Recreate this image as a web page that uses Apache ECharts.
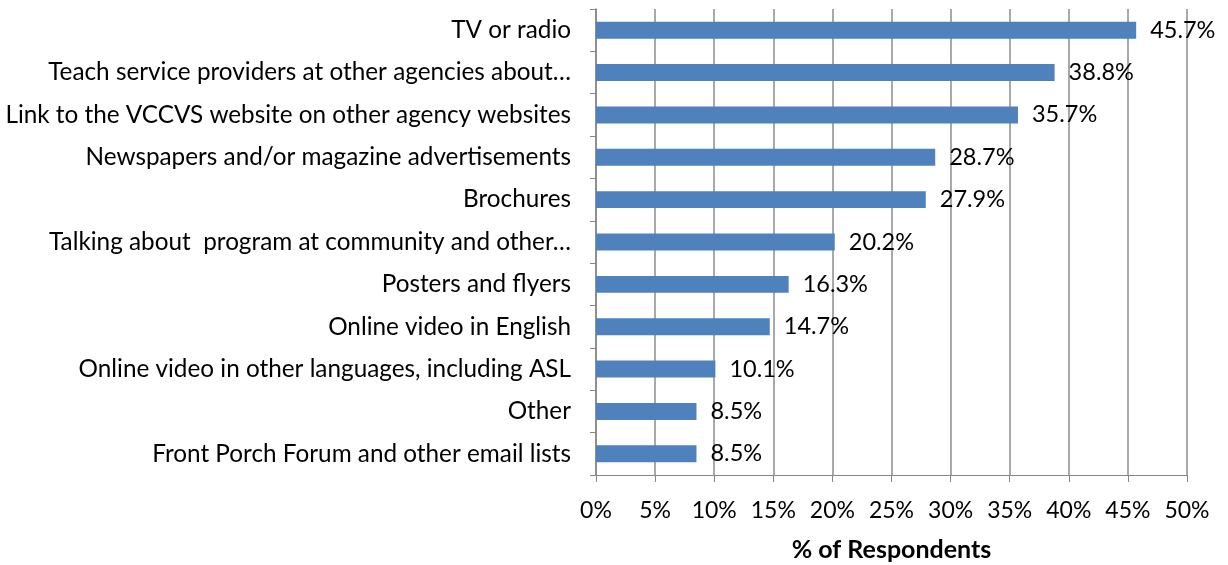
<!DOCTYPE html>
<html>
<head>
<meta charset="utf-8">
<script src="https://cdn.jsdelivr.net/npm/echarts@6/dist/echarts.min.js"></script>
<style>
  html, body { margin: 0; padding: 0; background: #fff; }
  #chart { width: 1228px; height: 565px; }
</style>
</head>
<body>
<div id="chart"></div>
<script>
var categories = [
  'TV or radio',
  'Teach service providers at other agencies about…',
  'Link to the VCCVS website on other agency websites',
  'Newspapers and/or magazine advertisements',
  'Brochures',
  'Talking about  program at community and other…',
  'Posters and flyers',
  'Online video in English',
  'Online video in other languages, including ASL',
  'Other',
  'Front Porch Forum and other email lists'
]
var respondents = [45.7, 38.8, 35.7, 28.7, 27.9, 20.2, 16.3, 14.7, 10.1, 8.5, 8.5]

var font = 'Lato, sans-serif'
var chart = echarts.init(document.getElementById('chart'))

chart.setOption({
  backgroundColor: '#fff',
  animation: false,
  grid: {
    left: 596,
    right: 41,
    top: 9,
    bottom: 90,
    outerBoundsMode: 'none'
  },
  xAxis: {
    type: 'value',
    min: 0,
    max: 50,
    interval: 5,
    name: '% of Respondents',
    nameLocation: 'middle',
    nameGap: 62,
    nameTextStyle: { fontFamily: font, fontSize: 25, fontWeight: 'bold', color: '#000' },
    axisLine: { show: true, lineStyle: { color: '#868686', width: 1 } },
    axisTick: { show: true, length: 7, lineStyle: { color: '#868686' } },
    splitLine: { show: true, lineStyle: { color: '#8c8c8c', width: 1.5 } },
    axisLabel: {
      formatter: '{value}%',
      fontFamily: font,
      fontSize: 23,
      color: '#000',
      margin: 24
    }
  },
  yAxis: {
    type: 'category',
    inverse: true,
    data: categories,
    axisLine: { show: true, lineStyle: { color: '#868686', width: 1.5 } },
    axisTick: { show: true, length: 6, lineStyle: { color: '#868686' } },
    splitLine: { show: false },
    axisLabel: {
      fontFamily: font,
      fontSize: 24.3,
      color: '#000',
      margin: 25
    }
  },
  series: [{
    type: 'bar',
    data: respondents,
    barWidth: '40%',
    itemStyle: { color: '#4F81BD' },
    label: {
      show: true,
      position: 'right',
      distance: 14,
      formatter: '{c}%',
      fontFamily: font,
      fontSize: 23.5,
      color: '#000'
    }
  }]
})
</script>
</body>
</html>
